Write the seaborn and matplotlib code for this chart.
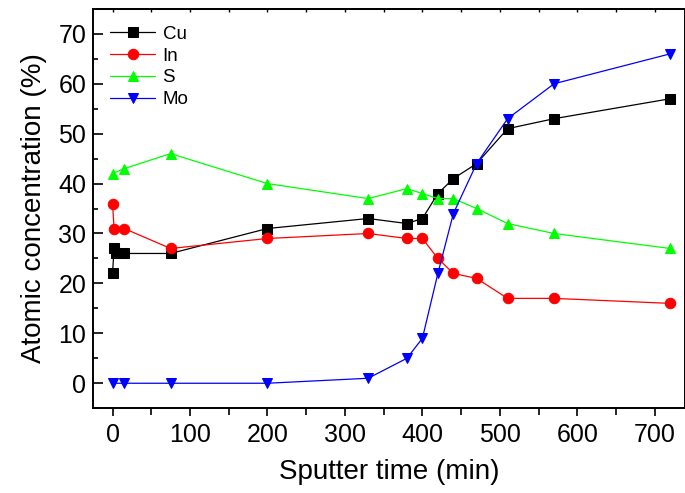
import matplotlib
matplotlib.use("Agg")
import matplotlib.pyplot as plt
from matplotlib.ticker import MultipleLocator
import pandas as pd
import seaborn as sns

# sputter time (min) and atomic concentration (%) per element
cu_time = [0, 2, 5, 15, 75, 200, 330, 380, 400, 420, 440, 470, 510, 570, 720]
cu_conc = [22, 27, 26, 26, 26, 31, 33, 32, 33, 38, 41, 44, 51, 53, 57]

in_time = [0, 2, 15, 75, 200, 330, 380, 400, 420, 440, 470, 510, 570, 720]
in_conc = [36, 31, 31, 27, 29, 30, 29, 29, 25, 22, 21, 17, 17, 16]

s_time = [0, 15, 75, 200, 330, 380, 400, 420, 440, 470, 510, 570, 720]
s_conc = [42, 43, 46, 40, 37, 39, 38, 37, 37, 35, 32, 30, 27]

mo_time = [0, 15, 75, 200, 330, 380, 400, 420, 440, 470, 510, 570, 720]
mo_conc = [0, 0, 0, 0, 1, 5, 9, 22, 34, 44, 53, 60, 66]

series = [
    ("Cu", cu_time, cu_conc, "#000000", "s"),
    ("In", in_time, in_conc, "#ff0000", "o"),
    ("S", s_time, s_conc, "#00ff00", "^"),
    ("Mo", mo_time, mo_conc, "#0000ff", "v"),
]

sns.set_style("ticks")
plt.rcParams["font.family"] = ["Liberation Sans", "DejaVu Sans"]
plt.rcParams["text.color"] = "black"
plt.rcParams["axes.labelcolor"] = "black"
plt.rcParams["xtick.color"] = "black"
plt.rcParams["ytick.color"] = "black"
plt.rcParams["axes.edgecolor"] = "black"

fig = plt.figure(figsize=(6.85, 4.93), dpi=100)
ax = fig.add_axes([0.136, 0.172, 0.864, 0.81])

for name, t, c, color, marker in series:
    df = pd.DataFrame({"time": t, "conc": c})
    sns.lineplot(data=df, x="time", y="conc", ax=ax, color=color, marker=marker,
                 markersize=7.5, markeredgecolor=color, linewidth=0.9, label=name,
                 sort=False)

ax.set_xlim(-25, 739)
ax.set_ylim(-5, 75)
ax.xaxis.set_major_locator(MultipleLocator(100))
ax.xaxis.set_minor_locator(MultipleLocator(50))
ax.yaxis.set_major_locator(MultipleLocator(10))
ax.yaxis.set_minor_locator(MultipleLocator(5))

for side in ["left", "bottom", "top", "right"]:
    ax.spines[side].set_linewidth(1.4)
    ax.spines[side].set_visible(True)

ax.tick_params(axis="x", which="major", direction="out", length=6, width=1.2,
               labelsize=18, pad=5)
ax.tick_params(axis="x", which="minor", direction="out", length=5, width=1.2)
ax.tick_params(axis="y", which="major", direction="in", length=7, width=1.2,
               labelsize=18, pad=5)
ax.tick_params(axis="y", which="minor", direction="in", length=3.5, width=1.2)

# small inward ticks along the top frame
top = ax.secondary_xaxis("top")
top.xaxis.set_major_locator(MultipleLocator(50))
top.tick_params(direction="in", length=2.5, width=1.0, labeltop=False)
top.spines["top"].set_linewidth(1.4)

ax.set_xlabel("Sputter time (min)", fontsize=20, labelpad=8)
ax.set_ylabel("Atomic concentration (%)", fontsize=20, labelpad=8)

ax.legend(loc="upper left", frameon=False, fontsize=13.5, handlelength=2.4,
          handletextpad=0.4, labelspacing=0.25, borderaxespad=0.5,
          bbox_to_anchor=(0.0, 1.0))

fig.savefig("out.png", dpi=100)
